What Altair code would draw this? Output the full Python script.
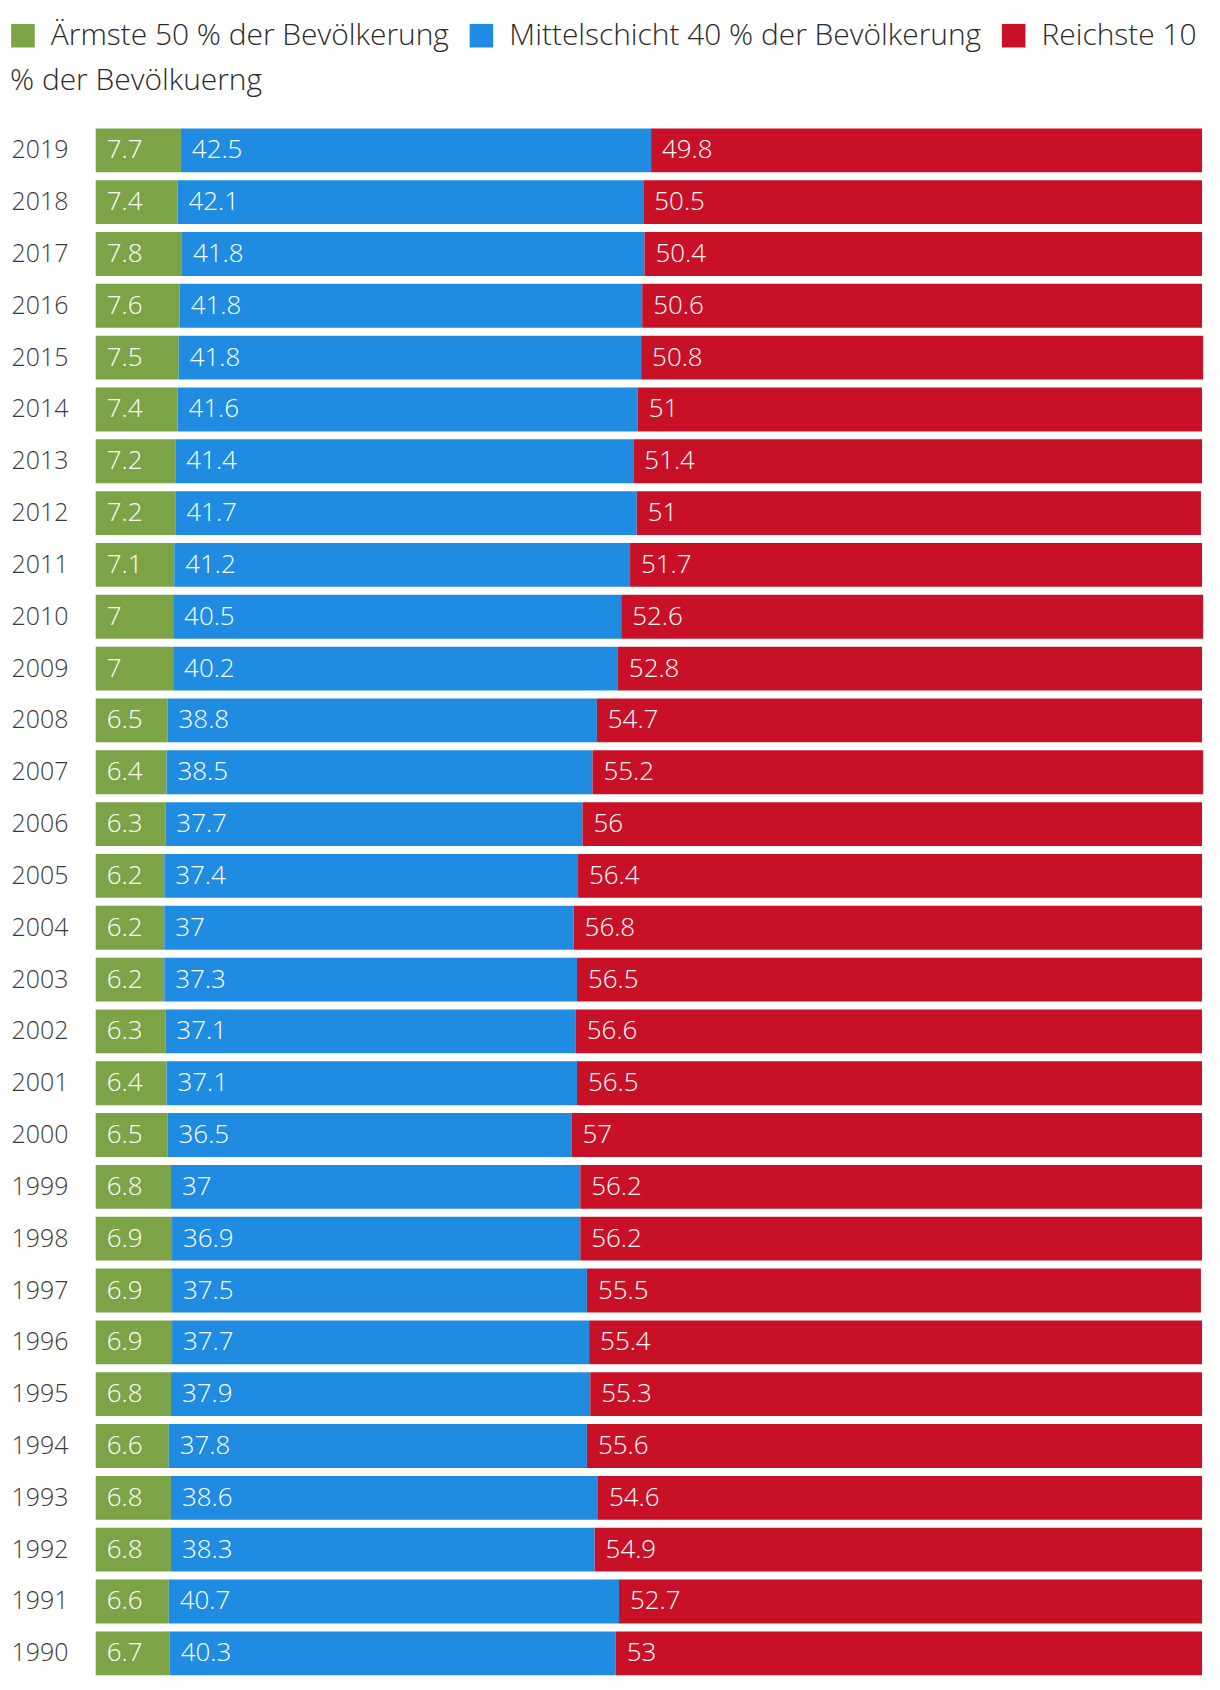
import altair as alt
import pandas as pd

years = [2019, 2018, 2017, 2016, 2015, 2014, 2013, 2012, 2011, 2010,
         2009, 2008, 2007, 2006, 2005, 2004, 2003, 2002, 2001, 2000,
         1999, 1998, 1997, 1996, 1995, 1994, 1993, 1992, 1991, 1990]
poorest = [7.7, 7.4, 7.8, 7.6, 7.5, 7.4, 7.2, 7.2, 7.1, 7.0,
           7.0, 6.5, 6.4, 6.3, 6.2, 6.2, 6.2, 6.3, 6.4, 6.5,
           6.8, 6.9, 6.9, 6.9, 6.8, 6.6, 6.8, 6.8, 6.6, 6.7]
middle = [42.5, 42.1, 41.8, 41.8, 41.8, 41.6, 41.4, 41.7, 41.2, 40.5,
          40.2, 38.8, 38.5, 37.7, 37.4, 37.0, 37.3, 37.1, 37.1, 36.5,
          37.0, 36.9, 37.5, 37.7, 37.9, 37.8, 38.6, 38.3, 40.7, 40.3]
richest = [49.8, 50.5, 50.4, 50.6, 50.8, 51.0, 51.4, 51.0, 51.7, 52.6,
           52.8, 54.7, 55.2, 56.0, 56.4, 56.8, 56.5, 56.6, 56.5, 57.0,
           56.2, 56.2, 55.5, 55.4, 55.3, 55.6, 54.6, 54.9, 52.7, 53.0]

groups = ["Ärmste 50 % der Bevölkerung",
          "Mittelschicht 40 % der Bevölkerung",
          "Reichste 10"]
legend_wrap = ["% der Bevölkuerng"]
colors = ["#7ca446", "#1f8ce1", "#c81126"]

rows = []
for i, y in enumerate(years):
    for k, (g, vals) in enumerate(zip(groups, [poorest, middle, richest])):
        v = vals[i]
        rows.append({"year": str(y), "group": g, "order": k, "value": v,
                     "label": f"{v:g}"})
df = pd.DataFrame(rows)

FONT = "Open Sans"

base = alt.Chart(df).transform_stack(
    stack="value", groupby=["year"], as_=["x0", "x1"],
    sort=[alt.SortField("order", order="ascending")]
)

yenc = alt.Y("year:O", sort=alt.SortOrder("descending"), title=None,
             scale=alt.Scale(paddingInner=0.154, paddingOuter=0.077),
             axis=alt.Axis(labelAlign="left", labelPadding=85, ticks=False,
                           tickSize=0, domain=False, labelFontSize=25,
                           labelFont=FONT, labelFontWeight=300,
                           labelColor="#3a3a3a"))

bars = base.mark_bar().encode(
    y=yenc,
    x=alt.X("x0:Q", axis=None, scale=alt.Scale(domain=[0, 100], nice=False)),
    x2="x1:Q",
    color=alt.Color("group:N", scale=alt.Scale(domain=groups, range=colors),
                    sort=groups,
                    legend=alt.Legend(orient="none", legendX=-88, legendY=-104,
                                      direction="horizontal", title=None,
                                      symbolType="square", symbolSize=560,
                                      symbolStrokeWidth=0, symbolOpacity=1,
                                      labelFontSize=30, labelFont=FONT,
                                      labelFontWeight=300, labelColor="#2a2a2a",
                                      labelOffset=13, columnPadding=17,
                                      labelLimit=600)),
)

texts = base.mark_text(align="left", baseline="middle", dx=11, color="white",
                       fontSize=26, font=FONT, fontWeight=300).encode(
    y=alt.Y("year:O", sort=alt.SortOrder("descending")),
    x="x0:Q",
    text="label:N",
)

wrap = alt.Chart(pd.DataFrame({"t": legend_wrap})).mark_text(
    align="left", baseline="middle", fontSize=30, font=FONT, fontWeight=300,
    color="#2a2a2a"
).encode(text="t:N", x=alt.value(-86), y=alt.value(-44))

chart = alt.layer(bars, texts, wrap).properties(
    width=1110, height=1560,
    autosize=alt.AutoSizeParams(type="none"),
    padding={"left": 88, "top": 114, "right": 10, "bottom": 4},
).configure_view(stroke=None)

chart.save("out.html", embed_options={"renderer": "svg", "actions": False})
